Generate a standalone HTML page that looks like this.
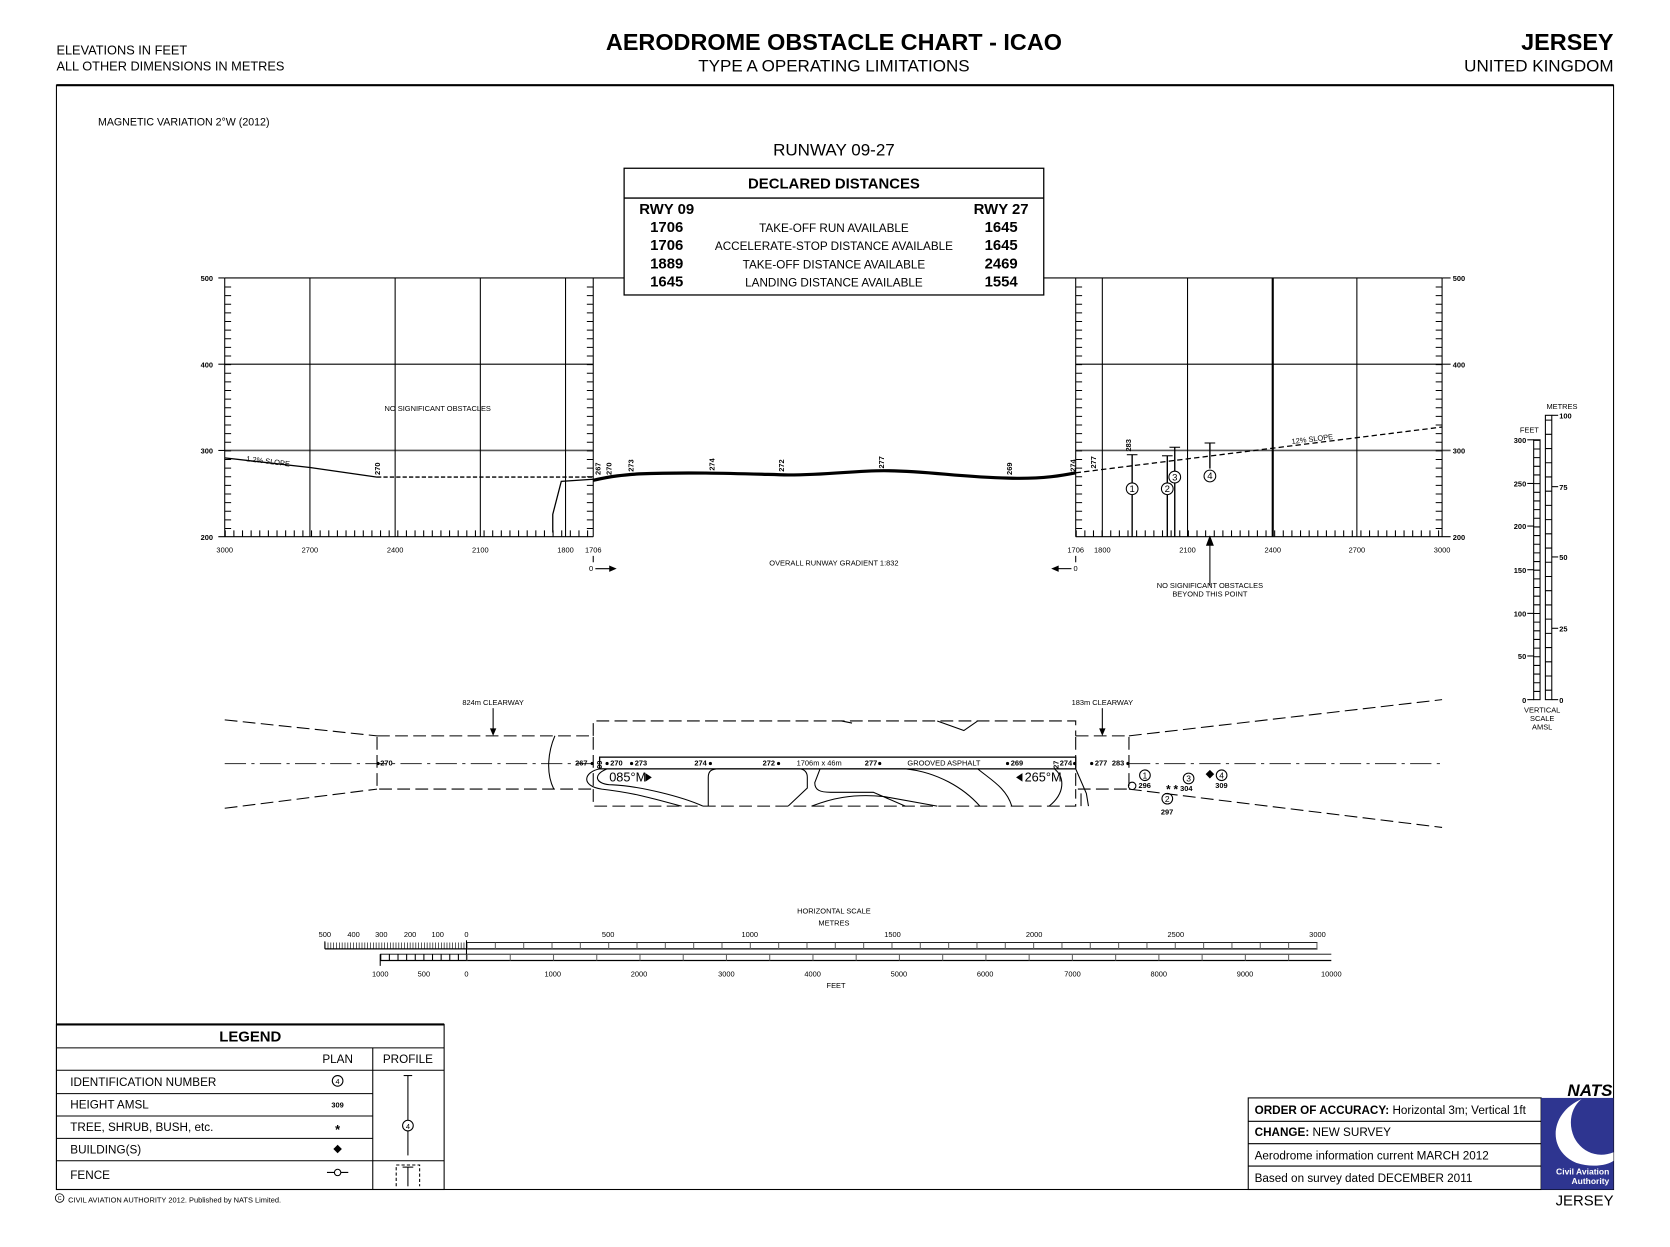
<!DOCTYPE html>
<html><head><meta charset="utf-8"><style>
html,body{margin:0;padding:0;background:#fff}
svg{display:block}
text{font-family:"Liberation Sans",sans-serif;fill:#000}
.b{font-weight:bold}
</style></head><body>
<svg width="1670" height="1247" viewBox="0 0 1568 1171" preserveAspectRatio="none" xmlns="http://www.w3.org/2000/svg">
<rect width="1568" height="1171" fill="#fff"/>
<text x="53" y="51" font-size="12">ELEVATIONS IN FEET</text>
<text x="53" y="66" font-size="12">ALL OTHER DIMENSIONS IN METRES</text>
<text x="783" y="47" font-size="22" class="b" text-anchor="middle">AERODROME OBSTACLE CHART - ICAO</text>
<text x="783" y="67" font-size="16" text-anchor="middle">TYPE A  OPERATING LIMITATIONS</text>
<text x="1515" y="47" font-size="22" class="b" text-anchor="end">JERSEY</text>
<text x="1515" y="67" font-size="16" text-anchor="end">UNITED KINGDOM</text>
<rect x="53" y="80" width="1462" height="1037" fill="none" stroke="#000" stroke-width="1"/>
<line x1="53" y1="80" x2="1515" y2="80" stroke="#000" stroke-width="2"/>
<text x="92" y="118" font-size="10">MAGNETIC VARIATION 2°W (2012)</text>
<text x="783" y="146" font-size="16" text-anchor="middle">RUNWAY 09-27</text>
<rect x="586" y="158" width="394" height="119" fill="#fff" stroke="#000" stroke-width="1.2"/>
<line x1="586" y1="186" x2="980" y2="186" stroke="#000" stroke-width="1.2"/>
<text x="783" y="177" font-size="14" class="b" text-anchor="middle">DECLARED DISTANCES</text>
<text x="626" y="201" font-size="14" class="b" text-anchor="middle">RWY 09</text>
<text x="940" y="201" font-size="14" class="b" text-anchor="middle">RWY 27</text>
<g font-size="14" text-anchor="middle">
<text x="626" y="218" class="b">1706</text><text x="940" y="218" class="b">1645</text>
<text x="626" y="235" class="b">1706</text><text x="940" y="235" class="b">1645</text>
<text x="626" y="252" class="b">1889</text><text x="940" y="252" class="b">2469</text>
<text x="626" y="269" class="b">1645</text><text x="940" y="269" class="b">1554</text>
</g>
<g font-size="11" text-anchor="middle">
<text x="783" y="218">TAKE-OFF RUN AVAILABLE</text>
<text x="783" y="235">ACCELERATE-STOP DISTANCE AVAILABLE</text>
<text x="783" y="252">TAKE-OFF DISTANCE AVAILABLE</text>
<text x="783" y="269">LANDING DISTANCE AVAILABLE</text>
</g>
<g stroke="#000" fill="none">
<line x1="211" y1="261" x2="586" y2="261" stroke-width="1"/>
<line x1="211" y1="342" x2="557" y2="342"/>
<line x1="211" y1="423" x2="557" y2="423" stroke="#555" stroke-width="1.6"/>
<line x1="205" y1="504" x2="557" y2="504"/>
<line x1="211" y1="261" x2="211" y2="504"/>
<line x1="291" y1="261" x2="291" y2="504"/>
<line x1="371" y1="261" x2="371" y2="504"/>
<line x1="451" y1="261" x2="451" y2="504"/>
<line x1="531" y1="261" x2="531" y2="504"/>
<line x1="557" y1="261" x2="557" y2="504"/>
<line x1="214" y1="269" x2="214" y2="504" stroke-width="6" stroke-dasharray="1 7.1"/>
<line x1="554" y1="269" x2="554" y2="504" stroke-width="6" stroke-dasharray="1 7.1"/>
<line x1="211" y1="501" x2="557" y2="501" stroke-width="6" stroke-dasharray="1 7.1"/>
<line x1="980" y1="261" x2="1354" y2="261"/>
<line x1="1010" y1="342" x2="1354" y2="342"/>
<line x1="1010" y1="423" x2="1362" y2="423" stroke="#555" stroke-width="1.6"/>
<line x1="1010" y1="504" x2="1362" y2="504"/>
<line x1="1010" y1="261" x2="1010" y2="504"/>
<line x1="1035" y1="261" x2="1035" y2="504"/>
<line x1="1115" y1="261" x2="1115" y2="504"/>
<line x1="1195" y1="261" x2="1195" y2="504" stroke-width="2"/>
<line x1="1274" y1="261" x2="1274" y2="504"/>
<line x1="1354" y1="261" x2="1354" y2="504"/>
<line x1="1013" y1="269" x2="1013" y2="504" stroke-width="6" stroke-dasharray="1 7.1"/>
<line x1="1351" y1="269" x2="1351" y2="504" stroke-width="6" stroke-dasharray="1 7.1"/>
<line x1="1010" y1="501" x2="1354" y2="501" stroke-width="6" stroke-dasharray="1 7.1"/>
<line x1="211" y1="261" x2="205" y2="261"/><line x1="205" y1="342" x2="211" y2="342"/><line x1="205" y1="423" x2="211" y2="423"/>
<line x1="1354" y1="261" x2="1362" y2="261"/><line x1="1354" y1="342" x2="1362" y2="342"/>
<polyline points="211,430 291,439 354,448" stroke-width="1.2"/>
<line x1="354" y1="448" x2="557" y2="448" stroke-dasharray="4 2" stroke-width="1.2"/>
<polyline points="519,500 519,483 527,452 557,450" stroke-width="1.2"/>
<path d="M557,451 C575,447 585,446 600,445 C650,443 700,445 740,446 C780,446 800,442 830,442 C870,442 900,448 947,449 C980,450 1000,446 1010,444" stroke-width="3"/>
<line x1="1010" y1="444" x2="1354" y2="401" stroke-dasharray="5 3" stroke-width="1.2"/>
<line x1="1063" y1="427" x2="1063" y2="504" stroke-width="1.3"/><line x1="1058" y1="427" x2="1068" y2="427"/>
<line x1="1096" y1="428" x2="1096" y2="504" stroke-width="1.3"/><line x1="1091" y1="428" x2="1101" y2="428"/>
<line x1="1103" y1="420" x2="1103" y2="504" stroke-width="1.3"/><line x1="1098" y1="420" x2="1108" y2="420"/>
<line x1="1136" y1="416" x2="1136" y2="440" stroke-width="1.3"/><line x1="1131" y1="416" x2="1141" y2="416"/>
<line x1="1136" y1="504" x2="1136" y2="550"/>
<polygon points="1136,504 1133,512 1139,512" fill="#000"/>
</g>
<g font-size="9" text-anchor="middle">
<circle cx="1063" cy="459" r="5.5" fill="#fff" stroke="#000"/><text x="1063" y="462">1</text>
<circle cx="1096" cy="459" r="5.5" fill="#fff" stroke="#000"/><text x="1096" y="462">2</text>
<circle cx="1103" cy="448" r="5.5" fill="#fff" stroke="#000"/><text x="1103" y="451">3</text>
<circle cx="1136" cy="447" r="5.5" fill="#fff" stroke="#000"/><text x="1136" y="450">4</text>
</g>
<g font-size="7" class="b">
<text transform="translate(357,446) rotate(-90)">270</text>
<text transform="translate(564,446) rotate(-90)">267</text>
<text transform="translate(574,446) rotate(-90)">270</text>
<text transform="translate(595,443) rotate(-90)">273</text>
<text transform="translate(671,442) rotate(-90)">274</text>
<text transform="translate(736,443) rotate(-90)">272</text>
<text transform="translate(830,440) rotate(-90)">277</text>
<text transform="translate(950,446) rotate(-90)">269</text>
<text transform="translate(1010,443) rotate(-90)">274</text>
<text transform="translate(1029,440) rotate(-90)">277</text>
<text transform="translate(1062,424) rotate(-90)">283</text>
</g>
<g font-size="7">
<text transform="translate(231,433) rotate(7)">1.2% SLOPE</text>
<text transform="translate(1213,417) rotate(-7)">12% SLOPE</text>
<text x="411" y="386" text-anchor="middle">NO SIGNIFICANT OBSTACLES</text>
<text x="783" y="531" text-anchor="middle">OVERALL RUNWAY GRADIENT 1:832</text>
<text x="1136" y="552" text-anchor="middle">NO SIGNIFICANT OBSTACLES</text>
<text x="1136" y="560" text-anchor="middle">BEYOND THIS POINT</text>
<text x="200" y="264" text-anchor="end" class="b">500</text>
<text x="200" y="345" text-anchor="end" class="b">400</text>
<text x="200" y="426" text-anchor="end" class="b">300</text>
<text x="200" y="507" text-anchor="end" class="b">200</text>
<text x="1364" y="264" class="b">500</text>
<text x="1364" y="345" class="b">400</text>
<text x="1364" y="426" class="b">300</text>
<text x="1364" y="507" class="b">200</text>
<g text-anchor="middle">
<text x="211" y="519">3000</text><text x="291" y="519">2700</text><text x="371" y="519">2400</text><text x="451" y="519">2100</text><text x="531" y="519">1800</text><text x="557" y="519">1706</text>
<text x="1010" y="519">1706</text><text x="1035" y="519">1800</text><text x="1115" y="519">2100</text><text x="1195" y="519">2400</text><text x="1274" y="519">2700</text><text x="1354" y="519">3000</text>
</g>
<text x="553" y="536">0</text>
<text x="1008" y="536">0</text>
</g>
<g stroke="#000">
<line x1="557" y1="522" x2="557" y2="528"/><line x1="559" y1="534" x2="574" y2="534"/>
<line x1="1010" y1="522" x2="1010" y2="528"/><line x1="992" y1="534" x2="1006" y2="534"/>
</g>
<polygon points="579,534 572,531 572,537" fill="#000"/>
<polygon points="987,534 994,531 994,537" fill="#000"/>
<g stroke="#000" fill="none">
<rect x="1440" y="413" width="6" height="244"/>
<line x1="1443" y1="413" x2="1443" y2="657" stroke-width="6" stroke-dasharray="1 7.13"/>
<rect x="1451" y="390" width="6" height="267"/>
<line x1="1454" y1="394" x2="1454" y2="657" stroke-width="6" stroke-dasharray="1 12.35"/>
<line x1="1434" y1="413" x2="1440" y2="413"/><line x1="1434" y1="454" x2="1440" y2="454"/><line x1="1434" y1="494" x2="1440" y2="494"/><line x1="1434" y1="535" x2="1440" y2="535"/><line x1="1434" y1="576" x2="1440" y2="576"/><line x1="1434" y1="616" x2="1440" y2="616"/><line x1="1434" y1="657" x2="1440" y2="657"/>
<line x1="1457" y1="390" x2="1463" y2="390"/><line x1="1457" y1="457" x2="1463" y2="457"/><line x1="1457" y1="523" x2="1463" y2="523"/><line x1="1457" y1="590" x2="1463" y2="590"/><line x1="1457" y1="657" x2="1463" y2="657"/>
</g>
<g font-size="7">
<text x="1452" y="384">METRES</text><text x="1427" y="406">FEET</text>
<g text-anchor="end" class="b"><text x="1433" y="416">300</text><text x="1433" y="457">250</text><text x="1433" y="497">200</text><text x="1433" y="538">150</text><text x="1433" y="579">100</text><text x="1433" y="619">50</text><text x="1433" y="660">0</text></g>
<g class="b"><text x="1464" y="393">100</text><text x="1464" y="460">75</text><text x="1464" y="526">50</text><text x="1464" y="593">25</text><text x="1464" y="660">0</text></g>
<g text-anchor="middle"><text x="1448" y="669">VERTICAL</text><text x="1448" y="677">SCALE</text><text x="1448" y="685">AMSL</text></g>
</g>
<g stroke="#000" fill="none" stroke-width="1">
<line x1="211" y1="717" x2="557" y2="717" stroke-dasharray="20 5 3 5" stroke="#444"/>
<line x1="1060" y1="717" x2="1354" y2="717" stroke-dasharray="20 5 3 5" stroke="#444"/>
<line x1="211" y1="676" x2="354" y2="691" stroke-dasharray="12 5"/>
<line x1="211" y1="759" x2="354" y2="741" stroke-dasharray="12 5"/>
<rect x="354" y="691" width="203" height="50" stroke-dasharray="12 5"/>
<polyline points="557,691 557,677 1010,677 1010,691" stroke-dasharray="12 5"/>
<polyline points="557,741 557,757 1010,757 1010,741" stroke-dasharray="12 5"/>
<rect x="1010" y="691" width="50" height="50" stroke-dasharray="12 5"/>
<line x1="1060" y1="691" x2="1354" y2="657" stroke-dasharray="12 5"/>
<line x1="1060" y1="741" x2="1354" y2="777" stroke-dasharray="12 5"/>
<line x1="1035" y1="665" x2="1035" y2="688"/>
<line x1="463" y1="665" x2="463" y2="688"/>
<rect x="563" y="711" width="447" height="11" stroke-width="1.2" fill="#fff"/>
<path d="M521,691 C515,705 512,725 520,741 M563,722 C548,725 545,738 565,741 C600,745 620,752 640,757"/>
<path d="M570,722 C555,728 560,737 575,737 C600,738 640,748 660,757"/>
<path d="M665,757 L665,730 C665,724 668,722 675,722 L750,722 C756,722 758,726 758,730 L758,740 L740,757"/>
<path d="M762,757 C780,750 800,745 830,748 L880,757 M770,722 L765,735 C765,742 770,744 780,744 L820,744 L850,757"/>
<path d="M780,722 L850,722 C880,725 905,740 920,757 M918,722 C930,732 945,740 950,757"/>
<path d="M990,722 C1000,730 1000,745 985,757 M1010,722 L1020,745 L1022,757 M1015,745 L1015,757"/>
<path d="M880,677 L905,686 L918,677 M790,677 L800,679"/>
</g>
<polygon points="463,691 460,684 466,684" fill="#000"/>
<polygon points="1035,691 1032,684 1038,684" fill="#000"/>
<g font-size="7" class="b">
<text x="540" y="719">267</text><circle cx="556" cy="717" r="1.5" fill="#000"/>
<text transform="translate(565,722) rotate(-90)">09</text>
<circle cx="570" cy="717" r="1.5" fill="#000"/><text x="573" y="719">270</text>
<circle cx="593" cy="717" r="1.5" fill="#000"/><text x="596" y="719">273</text>
<text x="652" y="719">274</text><circle cx="667" cy="717" r="1.5" fill="#000"/>
<text x="716" y="719">272</text><circle cx="731" cy="717" r="1.5" fill="#000"/>
<text x="812" y="719">277</text><circle cx="826" cy="717" r="1.5" fill="#000"/>
<circle cx="946" cy="717" r="1.5" fill="#000"/><text x="949" y="719">269</text>
<text transform="translate(994,722) rotate(-90)">27</text>
<text x="995" y="719">274</text><circle cx="1009" cy="717" r="1.5" fill="#000"/>
<circle cx="1025" cy="717" r="1.5" fill="#000"/><text x="1028" y="719">277</text>
<text x="1044" y="719">283</text><circle cx="1059" cy="717" r="1.5" fill="#000"/>
<circle cx="355" cy="717" r="1.5" fill="#000"/><text x="357" y="719">270</text>
</g>
<g font-size="7">
<text x="748" y="719">1706m x 46m</text>
<text x="852" y="719">GROOVED ASPHALT</text>
<text x="463" y="662" text-anchor="middle">824m CLEARWAY</text>
<text x="1035" y="662" text-anchor="middle">183m CLEARWAY</text>
</g>
<text x="572" y="734" font-size="12">085°M</text><polygon points="612,730 606,726 606,734" fill="#000"/>
<text x="962" y="734" font-size="12">265°M</text><polygon points="954,730 960,726 960,734" fill="#000"/>
<g font-size="8" text-anchor="middle">
<circle cx="1075" cy="728" r="5" fill="none" stroke="#000"/><text x="1075" y="731">1</text>
<circle cx="1096" cy="750" r="5" fill="none" stroke="#000"/><text x="1096" y="753">2</text>
<circle cx="1116" cy="731" r="5" fill="none" stroke="#000"/><text x="1116" y="734">3</text>
<circle cx="1147" cy="728" r="5" fill="none" stroke="#000"/><text x="1147" y="731">4</text>
</g>
<circle cx="1063" cy="738" r="3.5" fill="none" stroke="#000"/>
<polygon points="1136,723 1140,727 1136,731 1132,727" fill="#000"/>
<g font-size="7" class="b"><text x="1069" y="740">296</text><text x="1090" y="765">297</text><text x="1108" y="743">304</text><text x="1141" y="740">309</text></g>
<text x="1097" y="745" font-size="11" class="b" text-anchor="middle">*</text>
<text x="1104" y="745" font-size="11" class="b" text-anchor="middle">*</text>
<g font-size="7" text-anchor="middle">
<text x="783" y="858">HORIZONTAL SCALE</text><text x="783" y="869">METRES</text><text x="785" y="928">FEET</text>
<text x="305" y="880">500</text><text x="332" y="880">400</text><text x="358" y="880">300</text><text x="385" y="880">200</text><text x="411" y="880">100</text><text x="438" y="880">0</text>
<text x="571" y="880">500</text><text x="704" y="880">1000</text><text x="838" y="880">1500</text><text x="971" y="880">2000</text><text x="1104" y="880">2500</text><text x="1237" y="880">3000</text>
<text x="357" y="917">1000</text><text x="398" y="917">500</text><text x="438" y="917">0</text>
<text x="519" y="917">1000</text><text x="600" y="917">2000</text><text x="682" y="917">3000</text><text x="763" y="917">4000</text><text x="844" y="917">5000</text><text x="925" y="917">6000</text><text x="1007" y="917">7000</text><text x="1088" y="917">8000</text><text x="1169" y="917">9000</text><text x="1250" y="917">10000</text>
</g>
<g stroke="#000" fill="none">
<line x1="305" y1="891" x2="1237" y2="891" stroke-width="1.2"/>
<line x1="438" y1="885" x2="1237" y2="885" stroke-width="0.8"/>
<line x1="305" y1="884" x2="305" y2="891"/>
<line x1="305" y1="888" x2="438" y2="888" stroke-width="6" stroke-dasharray="0.6 2.06"/>
<line x1="438" y1="888" x2="1237" y2="888" stroke-width="6" stroke-dasharray="1 25.6" stroke="#666"/>
<line x1="438" y1="883" x2="438" y2="902"/>
<line x1="357" y1="902" x2="1250" y2="902" stroke-width="1.2"/>
<line x1="357" y1="896" x2="1250" y2="896" stroke-width="0.8"/>
<line x1="357" y1="896" x2="357" y2="907"/>
<line x1="357" y1="899" x2="438" y2="899" stroke-width="6" stroke-dasharray="1 7.1"/>
<line x1="438" y1="899" x2="1250" y2="899" stroke-width="6" stroke-dasharray="1 39.6" stroke="#666"/>
</g>
<g stroke="#000" fill="none">
<rect x="53" y="962" width="364" height="155"/>
<line x1="53" y1="962" x2="417" y2="962" stroke-width="2"/>
<line x1="53" y1="984" x2="417" y2="984"/>
<line x1="53" y1="1005" x2="417" y2="1005"/>
<line x1="53" y1="1027" x2="350" y2="1027"/>
<line x1="53" y1="1048" x2="350" y2="1048"/>
<line x1="53" y1="1069" x2="350" y2="1069"/>
<line x1="53" y1="1090" x2="417" y2="1090"/>
<line x1="350" y1="984" x2="350" y2="1117"/>
<line x1="383" y1="1010" x2="383" y2="1085"/><line x1="379" y1="1010" x2="387" y2="1010"/>
<circle cx="383" cy="1057" r="5" fill="#fff"/>
<circle cx="317" cy="1015" r="5"/>
<line x1="307" y1="1101" x2="327" y2="1101"/><circle cx="317" cy="1101" r="3" fill="#fff"/>
<polyline points="372,1114 372,1094 394,1094 394,1114" stroke-dasharray="3 2"/>
<line x1="383" y1="1096" x2="383" y2="1114"/><line x1="378" y1="1096" x2="388" y2="1096"/>
</g>
<text x="235" y="978" font-size="14" class="b" text-anchor="middle">LEGEND</text>
<g font-size="11">
<text x="317" y="998" text-anchor="middle">PLAN</text><text x="383" y="998" text-anchor="middle">PROFILE</text>
<text x="66" y="1020">IDENTIFICATION NUMBER</text>
<text x="66" y="1041">HEIGHT AMSL</text>
<text x="66" y="1062">TREE, SHRUB, BUSH, etc.</text>
<text x="66" y="1083">BUILDING(S)</text>
<text x="66" y="1107">FENCE</text>
</g>
<text x="317" y="1018" font-size="7" text-anchor="middle">4</text>
<text x="383" y="1060" font-size="7" text-anchor="middle">4</text>
<text x="317" y="1040" font-size="7" class="b" text-anchor="middle">309</text>
<text x="317" y="1065" font-size="12" class="b" text-anchor="middle">*</text>
<polygon points="317,1075 321,1079 317,1083 313,1079" fill="#000"/>
<circle cx="56" cy="1125" r="4" fill="none" stroke="#000" stroke-width="0.8"/>
<text x="56" y="1127" font-size="5" text-anchor="middle">C</text>
<text x="64" y="1129" font-size="7">CIVIL AVIATION AUTHORITY 2012. Published by NATS Limited.</text>
<g stroke="#000" fill="none">
<rect x="1172" y="1031" width="275" height="86"/>
<line x1="1172" y1="1053" x2="1447" y2="1053"/>
<line x1="1172" y1="1074" x2="1447" y2="1074"/>
<line x1="1172" y1="1095" x2="1447" y2="1095"/>
</g>
<g font-size="11">
<text x="1178" y="1046"><tspan class="b">ORDER OF ACCURACY:</tspan> Horizontal 3m; Vertical 1ft</text>
<text x="1178" y="1067"><tspan class="b">CHANGE:</tspan> NEW SURVEY</text>
<text x="1178" y="1089">Aerodrome information current MARCH 2012</text>
<text x="1178" y="1110">Based on survey dated DECEMBER 2011</text>
</g>
<rect x="1447" y="1031" width="68" height="86" fill="#2e3590"/>
<path d="M1485,1032 C1455,1045 1452,1080 1480,1092 C1495,1097 1510,1094 1515,1090 L1515,1082 C1500,1088 1485,1082 1478,1068 C1472,1055 1475,1040 1485,1032 Z" fill="#fff"/>
<text x="1514" y="1029" font-size="16" class="b" font-style="italic" text-anchor="end">NATS</text>
<text x="1511" y="1103" font-size="8" class="b" text-anchor="end" style="fill:#fff">Civil Aviation</text>
<text x="1511" y="1112" font-size="8" class="b" text-anchor="end" style="fill:#fff">Authority</text>
<text x="1515" y="1132" font-size="14" text-anchor="end">JERSEY</text>
</svg>
</body></html>
